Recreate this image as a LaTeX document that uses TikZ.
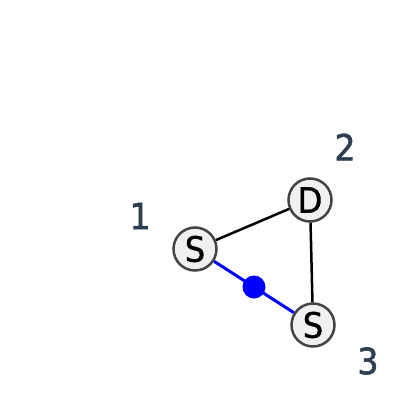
\documentclass[tikz,border=0pt]{standalone}
\usepackage{fontspec}
\setmainfont{DejaVu Sans}
\newfontfamily\idxfont{DejaVu Sans}[FakeBold=1.6, FakeStretch=0.92]
\newfontfamily\sitefont{DejaVu Sans}[FakeBold=1.0, FakeStretch=0.92]
\usetikzlibrary{calc}
\definecolor{nodefill}{HTML}{F0F0F0}
\definecolor{nodeline}{HTML}{444444}
\definecolor{labeltext}{HTML}{2C3E50}
\begin{document}
\begin{tikzpicture}[x=1pt, y=-1pt, every node/.style={inner sep=0pt},
	site/.style={circle, draw=nodeline, line width=2.5pt, fill=nodefill, minimum size=43pt, font=\sitefont\fontsize{35}{35}\selectfont},
	idx/.style={text=labeltext, font=\idxfont\fontsize{36}{36}\selectfont}]

	\useasboundingbox (0,0) rectangle (400,417);

	\node [site] (S1) at (195,249) {S};
	\node [site] (D2) at (310,200) {D};
	\node [site] (S3) at (313,325) {S};

	\node [idx] (L1) at (140,216) {1};
	\node [idx] (L2) at (345,147) {2};
	\node [idx] (L3) at (368,361) {3};

	\draw [line width=2.5pt] (S1) -- (D2);
	\draw [line width=2.5pt] (D2) -- (S3);
	\draw [line width=3pt, blue] (S1) -- (S3);
	\node [circle, fill=blue, minimum size=23pt] (M) at ($(S1)!0.5!(S3)$) {};

\end{tikzpicture}
\end{document}
